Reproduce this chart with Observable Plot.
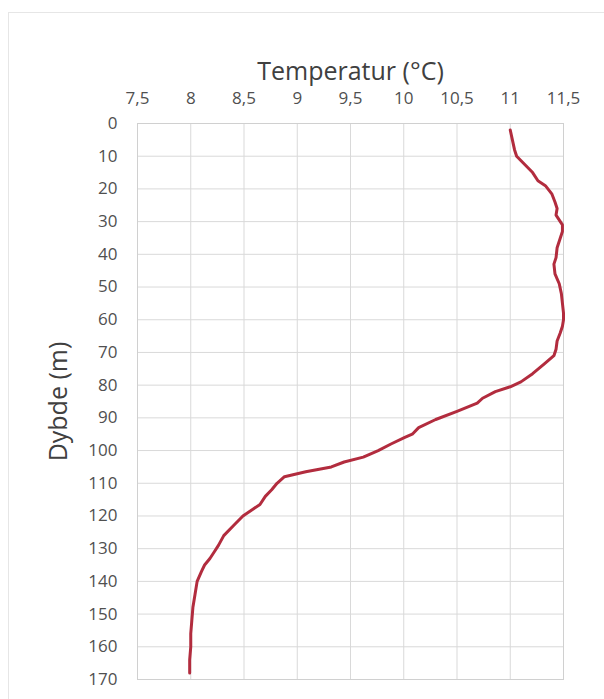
<!DOCTYPE html>
<html>
<head>
<meta charset="utf-8">
<script src="https://cdn.jsdelivr.net/npm/d3@7"></script>
<script src="https://cdn.jsdelivr.net/npm/@observablehq/plot@0.6"></script>
<style>
  html, body { margin: 0; padding: 0; background: #fff; }
  #wrap { position: relative; width: 604px; height: 699px; overflow: hidden; }
  #border { position: absolute; left: 8px; top: 12px; width: 620px; height: 720px; border: 1px solid #e6e6e6; box-sizing: border-box; }
  #chart { position: absolute; left: 0; top: 0; }
</style>
</head>
<body>
<div id="wrap"><div id="border"></div><div id="chart"></div></div>
<script>
const titleText = "Temperatur (°C)";
const yLabelText = "Dybde (m)";
const xTicks = [7.5, 8, 8.5, 9, 9.5, 10, 10.5, 11, 11.5];
const yTicks = [0, 10, 20, 30, 40, 50, 60, 70, 80, 90, 100, 110, 120, 130, 140, 150, 160, 170];

const depth = [2, 5, 8, 10, 12, 15, 17.5, 19, 21.5, 24, 26, 28, 29, 31, 33, 35, 38, 41, 43, 46, 49, 52, 55, 58, 60, 62, 64, 66.5, 69, 71, 73.5, 76.5, 79, 80.5, 82, 84, 85.5, 88, 90.5, 93, 95, 96, 98, 100, 102, 103.5, 105, 106.5, 108, 110, 112, 114, 116.5, 118, 120, 123, 126, 129, 131, 133, 135, 137, 140, 144, 148, 152, 156, 160, 164, 168];
const temperature = [11.0, 11.02, 11.04, 11.06, 11.12, 11.21, 11.26, 11.33, 11.39, 11.42, 11.44, 11.43, 11.45, 11.49, 11.49, 11.47, 11.44, 11.43, 11.41, 11.42, 11.46, 11.48, 11.49, 11.5, 11.5, 11.49, 11.47, 11.44, 11.43, 11.41, 11.32, 11.21, 11.1, 11.0, 10.86, 10.74, 10.69, 10.5, 10.3, 10.14, 10.08, 10.01, 9.88, 9.76, 9.62, 9.44, 9.32, 9.08, 8.88, 8.81, 8.76, 8.70, 8.65, 8.58, 8.49, 8.40, 8.31, 8.26, 8.22, 8.18, 8.13, 8.10, 8.06, 8.04, 8.02, 8.01, 8.0, 8.0, 7.99, 7.99];

const data = depth.map((d, i) => ({depth: d, temp: temperature[i]}));
const fmt = d => String(d).replace(".", ",");
const font = "'Open Sans', sans-serif";

const chart = Plot.plot({
  width: 604,
  height: 699,
  marginLeft: 137,
  marginRight: 41,
  marginTop: 123,
  marginBottom: 20,
  style: {fontFamily: font, background: "transparent", color: "#595959"},
  x: {domain: [7.5, 11.5]},
  y: {domain: [0, 170], reverse: true},
  marks: [
    Plot.gridX(xTicks, {stroke: "#d9d9d9", strokeOpacity: 1}),
    Plot.gridY(yTicks, {stroke: "#d9d9d9", strokeOpacity: 1}),
    Plot.frame({stroke: "#d0d0d0"}),
    Plot.axisX(xTicks, {anchor: "top", tickSize: 0, tickPadding: 20, tickFormat: fmt, fontSize: 17, fill: "#505050", label: null}),
    Plot.axisY(yTicks, {anchor: "left", tickSize: 0, tickPadding: 20, fontSize: 17, fill: "#505050", label: null}),
    Plot.text([titleText], {frameAnchor: "top", dy: -61, fontSize: 25, fill: "#404040", text: d => d}),
    Plot.text([yLabelText], {frameAnchor: "left", textAnchor: "middle", dx: -79, rotate: -90, fontSize: 25, fill: "#404040", text: d => d}),
    Plot.line(data, {x: "temp", y: "depth", stroke: "#b22c3e", strokeWidth: 3, curve: "linear", strokeLinejoin: "round", strokeLinecap: "round"})
  ]
});
document.getElementById("chart").appendChild(chart);
</script>
</body>
</html>
